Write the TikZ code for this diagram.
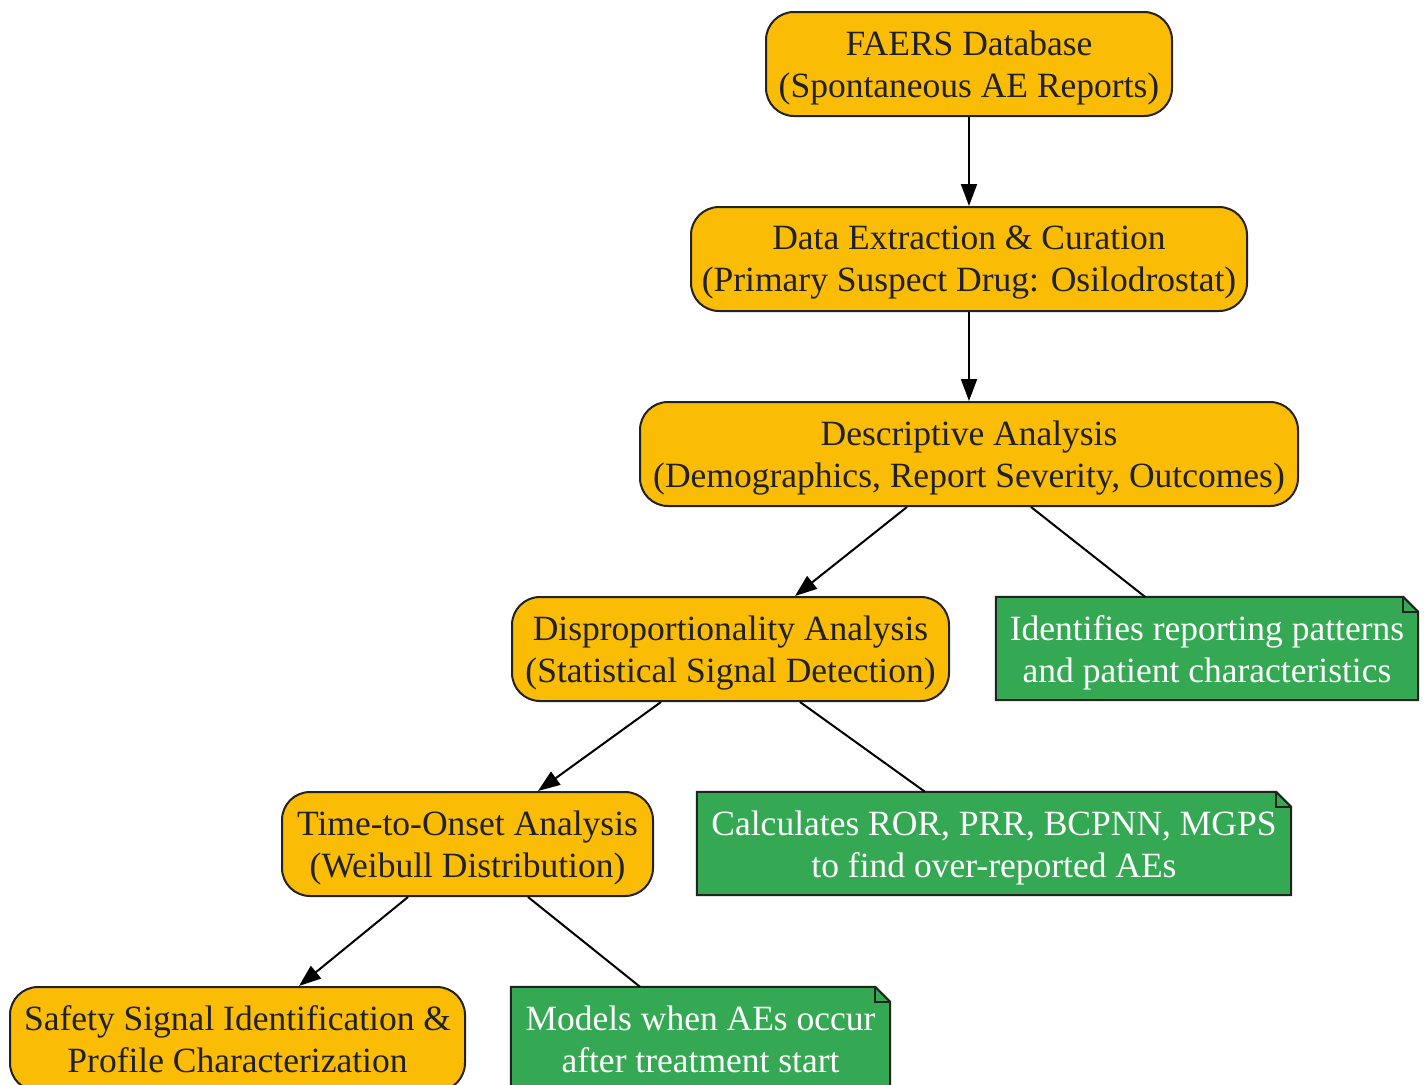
\documentclass[tikz,border=0pt]{standalone}
\usepackage{fontspec}
\setmainfont{Liberation Serif}
\usetikzlibrary{arrows.meta,calc,backgrounds}
\definecolor{boxorange}{HTML}{FBBC05}
\definecolor{boxgreen}{HTML}{34A853}
\definecolor{edgegray}{HTML}{222222}
\definecolor{txtdark}{HTML}{202124}
\newcommand\depthfix{\vphantom{(}}
\begin{document}
\begin{tikzpicture}[x=1pt,y=1pt,
  every node/.style={font=\fontsize{35.5}{42}\selectfont, align=center, inner sep=0pt},
  stage/.style={draw=edgegray, line width=2pt, fill=boxorange, rounded corners=28pt, minimum height=104pt},
  notebox/.style={minimum height=103pt},
  stxt/.style={text=txtdark, yshift=-4pt, align=center, inner sep=0pt},
  ntxt/.style={text=white, yshift=-4pt, align=center, inner sep=0pt},
  notedraw/.style={draw=edgegray, line width=2pt, line join=miter},
  flow/.style={draw=black, line width=2pt, -{Triangle[length=22pt,width=16pt]}},
  link/.style={draw=black, line width=2pt}
]
\clip (0,0) rectangle (1428,-1085);
\useasboundingbox (0,0) rectangle (1428,-1085);

\node[stage, minimum width=406pt, label={[stxt]center:FAERS Database\\(Spontaneous AE Reports)}] (n1) at (969,-64) {};
\node[stage, minimum width=556pt, label={[stxt]center:Data Extraction \& Curation\\(Primary Suspect Drug: Osilodrostat)}] (n2) at (969,-259) {};
\node[stage, minimum width=658pt, label={[stxt]center:Descriptive Analysis\\(Demographics, Report Severity, Outcomes)}] (n3) at (969,-454) {};
\node[stage, minimum width=437pt, label={[stxt]center:Disproportionality Analysis\\(Statistical Signal Detection)}] (n4) at (730.5,-649) {};
\node[notebox, minimum width=422pt, label={[ntxt]center:Identifies reporting patterns\\and patient characteristics\depthfix}] (c1) at (1207,-648.5) {};
\node[stage, minimum width=371pt, label={[stxt]center:Time-to-Onset Analysis\\(Weibull Distribution)}] (n5) at (467.5,-844) {};
\node[notebox, minimum width=594pt, label={[ntxt]center:Calculates ROR, PRR, BCPNN, MGPS\\to find over-reported AEs\depthfix}] (c2) at (994,-843.5) {};
\node[stage, minimum width=455pt, label={[stxt]center:Safety Signal Identification \&\\Profile Characterization\depthfix}] (n6) at (237.5,-1039) {};
\node[notebox, minimum width=379pt, label={[ntxt]center:Models when AEs occur\\after treatment start\depthfix}] (c3) at (700.5,-1038.5) {};

% note outlines with folded corner
\begin{scope}[on background layer]
\foreach \c in {c1,c2,c3}{
  \filldraw[notedraw, fill=boxgreen] (\c.south west) -- (\c.north west) -- ($(\c.north east)+(-15,0)$) -- ($(\c.north east)+(0,-15)$) -- (\c.south east) -- cycle;
  \draw[notedraw] ($(\c.north east)+(-15,0)$) -- ($(\c.north east)+(-15,-15)$) -- ($(\c.north east)+(0,-15)$);
}
\end{scope}

% connectors
\draw[flow] (n1.south) -- (n2.north);
\draw[flow] (n2.south) -- (n3.north);
\draw[flow] ([xshift=-62pt]n3.south) -- ([xshift=64.5pt]n4.north);
\draw[link] ([xshift=62pt]n3.south) -- ([xshift=-62pt]c1.north);
\draw[flow] ([xshift=-69.5pt]n4.south) -- ([xshift=70.5pt]n5.north);
\draw[link] ([xshift=69.5pt]n4.south) -- ([xshift=-69pt]c2.north);
\draw[flow] ([xshift=-59.5pt]n5.south) -- ([xshift=61.5pt]n6.north);
\draw[link] ([xshift=60.5pt]n5.south) -- ([xshift=-60.5pt]c3.north);
\end{tikzpicture}
\end{document}
